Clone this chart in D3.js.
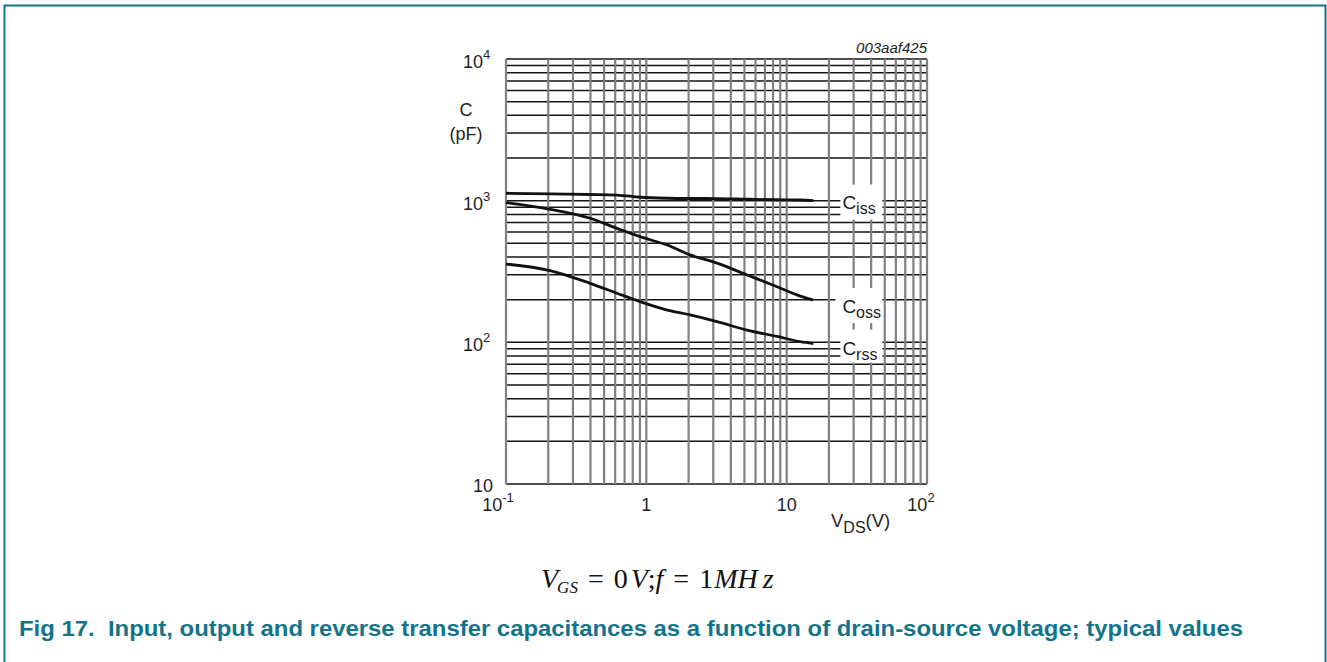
<!DOCTYPE html>
<html><head><meta charset="utf-8">
<script src="https://cdn.jsdelivr.net/npm/d3@7"></script>
<style>
html,body{margin:0;padding:0;background:#fff;}
svg{display:block;}
</style></head>
<body>
<svg id="c" width="1327" height="662"></svg>
<script>
// ---- data ----
const vds = [0.1, 0.206, 0.397, 0.618, 0.902, 1.41, 2.05, 3.19, 5.22, 8.55, 12.5, 15.5];
const ciss = [1128, 1115, 1105, 1096, 1057, 1040, 1036, 1035, 1023, 1015, 1011, 1002];
const coss = [968, 869, 751, 638, 557, 486, 414, 362, 299, 247, 212, 199];
const crss = [357, 321, 261, 222, 194, 169, 156, 140, 122, 110, 101, 98];
const seriesNames = ["iss", "oss", "rss"];
const xTickVals = [0.1, 1, 10, 100];
const xTickLabels = [["10", "-1"], ["1", ""], ["10", ""], ["10", "2"]];
const yTickVals = [10, 100, 1000, 10000];
const yTickLabels = [["10", ""], ["10", "2"], ["10", "3"], ["10", "4"]];
const chartId = "003aaf425";
const caption = "Fig 17.  Input, output and reverse transfer capacitances as a function of drain-source voltage; typical values";

const svg = d3.select("#c");
const x = d3.scaleLog().domain([0.1, 100]).range([506, 927]);
const y = d3.scaleLog().domain([10, 10000]).range([484, 59]);
const font = "'Liberation Sans', Arial, sans-serif";
const ink = "#1e1e1e";

// frame border (teal)
svg.append("path").attr("d", "M4.5,670 V5.5 H1325.5 V670")
  .attr("fill", "none").attr("stroke", "#16748a").attr("stroke-width", 2);

// grid
const gx = [], gy = [];
for (let e = -1; e < 2; e++) for (let m = 1; m < 10; m++) gx.push(m * Math.pow(10, e));
gx.push(100);
for (let e = 1; e < 4; e++) for (let m = 1; m < 10; m++) gy.push(m * Math.pow(10, e));
gy.push(10000);

const grid = svg.append("g");
grid.selectAll(".h").data(gy).enter().append("line")
  .attr("x1", x(0.1)).attr("x2", x(100))
  .attr("y1", d => y(d)).attr("y2", d => y(d))
  .attr("stroke", "#151515").attr("stroke-width", 1.5);
grid.selectAll(".v").data(gx).enter().append("line")
  .attr("y1", y(10)).attr("y2", y(10000))
  .attr("x1", d => x(d)).attr("x2", d => x(d))
  .attr("stroke", "#808080").attr("stroke-width", 2.2);

// curves
const all = [ciss, coss, crss];
const line = d3.line().x(d => x(d[0])).y(d => y(d[1])).curve(d3.curveMonotoneX);
all.forEach(s => {
  svg.append("path").datum(vds.map((v, i) => [v, s[i]]))
    .attr("d", line).attr("fill", "none")
    .attr("stroke", "#111").attr("stroke-width", 2.8);
});

// series labels with white boxes
const lastV = vds[vds.length - 1];
const labelX = x(lastV) + 29;
const boxTop = [-16, -12, -14], boxBot = [19, 23, 19], boxLeft = [-2, -7, -2], base = [8.5, 13, 11.5];
all.forEach((s, i) => {
  const ly = y(s[s.length - 1]);
  svg.append("rect").attr("x", labelX + boxLeft[i]).attr("y", ly + boxTop[i])
    .attr("width", 40 - boxLeft[i]).attr("height", boxBot[i] - boxTop[i]).attr("fill", "#fff");
  const t = svg.append("text").attr("x", labelX).attr("y", ly + base[i])
    .attr("font-family", font).attr("font-size", 19).attr("fill", ink);
  t.append("tspan").text("C");
  t.append("tspan").attr("dy", 5).attr("font-size", 16).text(seriesNames[i]);
});

// x tick labels
xTickVals.forEach((v, i) => {
  const sup = xTickLabels[i][1];
  const t = svg.append("text").attr("x", x(v) + (sup ? (i === 0 ? -8 : -6) : 0)).attr("y", 511)
    .attr("text-anchor", "middle").attr("font-family", font).attr("font-size", 18).attr("fill", ink);
  t.append("tspan").text(xTickLabels[i][0]);
  if (sup) {
    t.append("tspan").attr("dy", -9).attr("font-size", 13).text(sup);
  }
});
// y tick labels
yTickVals.forEach((v, i) => {
  const sup = yTickLabels[i][1];
  const t = svg.append("text").attr("font-family", font).attr("font-size", 18).attr("fill", ink);
  if (sup) {
    t.attr("x", 463).attr("y", y(v) + 9);
    t.append("tspan").text(yTickLabels[i][0]);
    t.append("tspan").attr("dy", -9).attr("font-size", 13).text(sup);
  } else {
    t.attr("x", 493).attr("y", y(v) + 8).attr("text-anchor", "end").text(yTickLabels[i][0]);
  }
});

// axis titles
svg.append("text").attr("x", 466).attr("y", 116).attr("text-anchor", "middle")
  .attr("font-family", font).attr("font-size", 18).attr("fill", ink).text("C");
svg.append("text").attr("x", 466).attr("y", 140).attr("text-anchor", "middle")
  .attr("font-family", font).attr("font-size", 18).attr("fill", ink).text("(pF)");
const xt = svg.append("text").attr("x", 831).attr("y", 527)
  .attr("font-family", font).attr("font-size", 18.5).attr("fill", ink);
xt.append("tspan").text("V");
xt.append("tspan").attr("dy", 6).attr("font-size", 16).text("DS");
xt.append("tspan").attr("dy", -6).text("(V)");

svg.append("text").attr("x", 927).attr("y", 53).attr("text-anchor", "end")
  .attr("font-family", font).attr("font-size", 15).attr("font-style", "italic").attr("fill", ink).text(chartId);

// formula
const ff = "'Liberation Serif', 'Times New Roman', serif";
const f = svg.append("text").attr("x", 541).attr("y", 588)
  .attr("font-family", ff).attr("font-size", 28).attr("fill", "#111");
f.append("tspan").attr("font-style", "italic").text("V");
f.append("tspan").attr("font-style", "italic").attr("font-size", 17).attr("dy", 5).attr("dx", -1).text("GS");
f.append("tspan").attr("dy", -5).attr("dx", 10).text("=");
f.append("tspan").attr("dx", 10).text("0");
f.append("tspan").attr("font-style", "italic").attr("dx", 3).text("V");
f.append("tspan").text(";");
f.append("tspan").attr("font-style", "italic").text("f");
f.append("tspan").attr("dx", 10).text("=");
f.append("tspan").attr("dx", 10).text("1");
f.append("tspan").attr("font-style", "italic").attr("dx", 1).text("MH");
f.append("tspan").attr("font-style", "italic").attr("dx", 5).text("z");

// caption
svg.append("text").attr("x", 19).attr("y", 636)
  .attr("font-family", font).attr("font-size", 21.5).attr("font-weight", "bold")
  .attr("fill", "#137489").attr("textLength", 1224).attr("lengthAdjust", "spacingAndGlyphs")
  .style("white-space", "pre").text(caption);
</script>
</body></html>
